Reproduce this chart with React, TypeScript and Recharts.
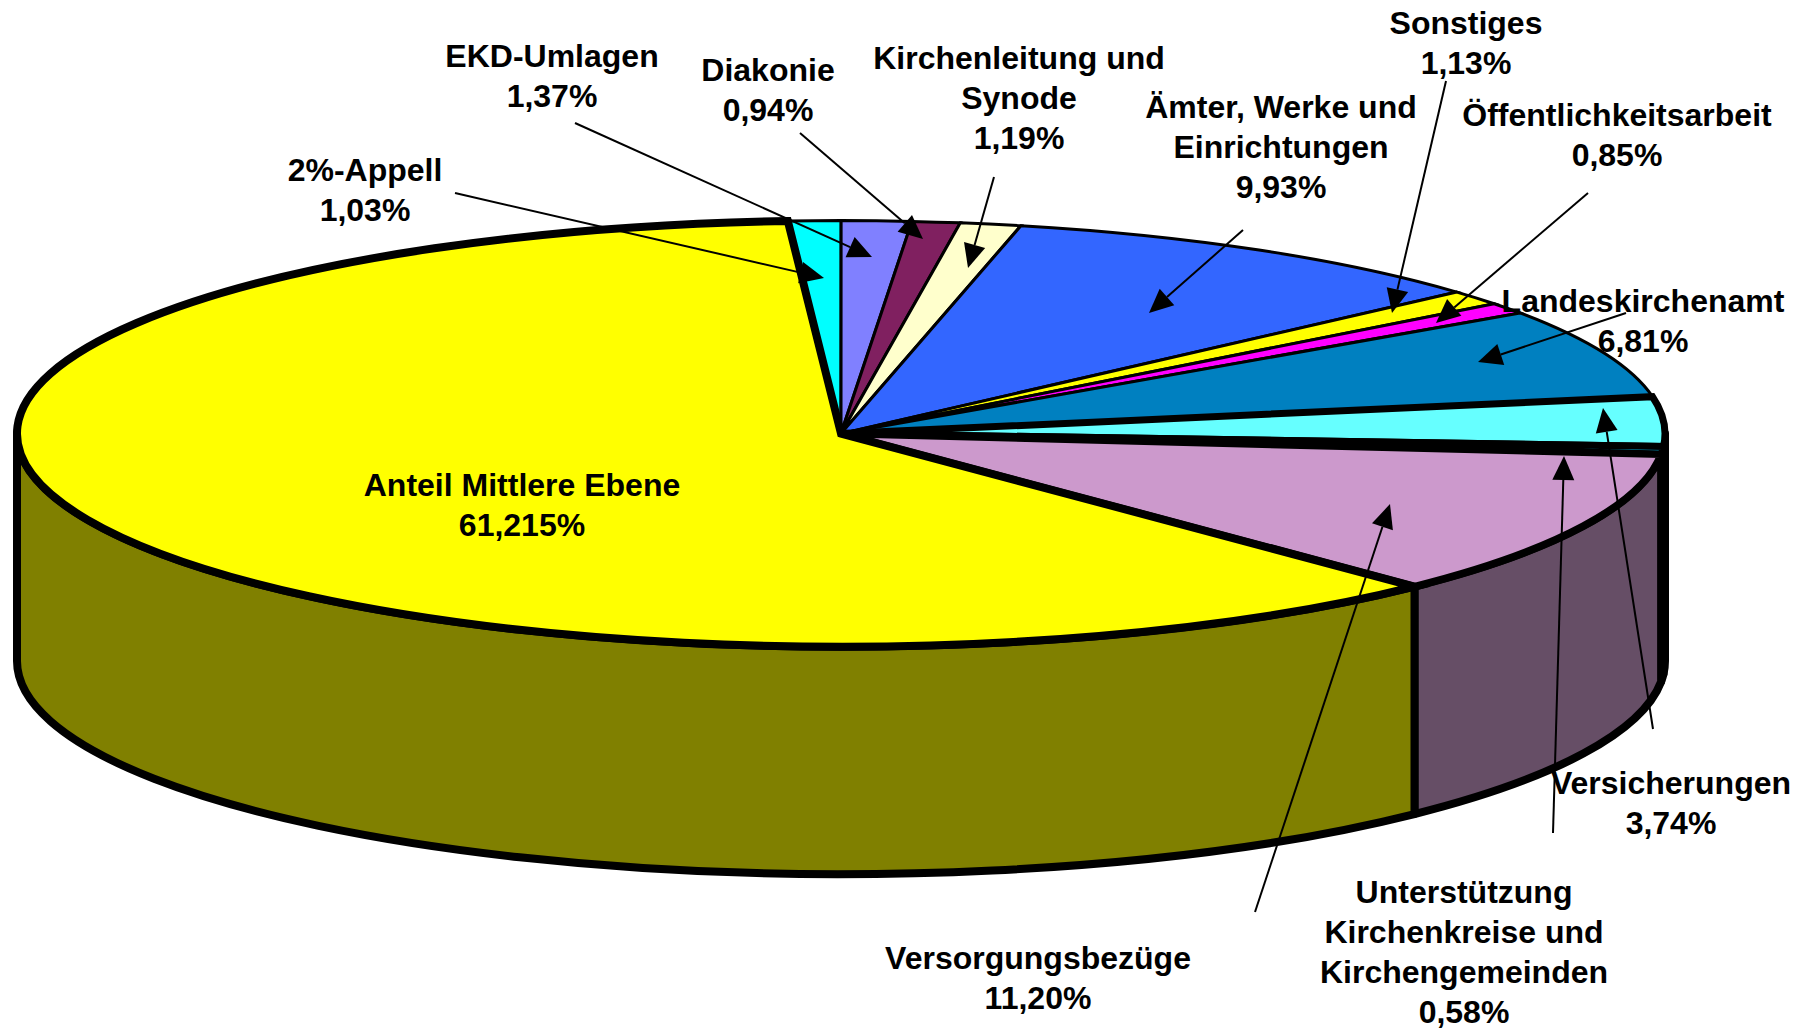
import React from "react";
import { PieChart, Pie } from "recharts";

const names = [
  "2%-Appell", "EKD-Umlagen", "Diakonie", "Kirchenleitung und Synode", "Ämter, Werke und Einrichtungen",
  "Sonstiges", "Öffentlichkeitsarbeit", "Landeskirchenamt", "Versicherungen",
  "Unterstützung Kirchenkreise und Kirchengemeinden", "Versorgungsbezüge", "Anteil Mittlere Ebene",
];
const values = [1.03, 1.37, 0.94, 1.19, 9.93, 1.13, 0.85, 6.81, 3.74, 0.58, 11.2, 61.215];
const percentLabels = ["1,03%", "1,37%", "0,94%", "1,19%", "9,93%", "1,13%", "0,85%", "6,81%", "3,74%", "0,58%", "11,20%", "61,215%"];
const topColors = ["#00FFFF", "#8080FF", "#802060", "#FFFFCC", "#3366FF", "#FFFF00", "#FF00FF", "#0080C0", "#66FFFF", "#00CCFF", "#CC99CC", "#FFFF00"];
const wallColors = ["#008080", "#404080", "#401030", "#808066", "#1A3380", "#808000", "#800080", "#004060", "#338080", "#006680", "#664E66", "#808000"];
const borderWidths = [3, 3, 3, 3, 3, 3, 3, 3, 7, 7, 7.5, 8];

const labelLines = [
  ["2%-Appell"], ["EKD-Umlagen"], ["Diakonie"], ["Kirchenleitung und", "Synode"], ["Ämter, Werke und", "Einrichtungen"],
  ["Sonstiges"], ["Öffentlichkeitsarbeit"], ["Landeskirchenamt"], ["Versicherungen"],
  ["Unterstützung", "Kirchenkreise und", "Kirchengemeinden"], ["Versorgungsbezüge"], ["Anteil Mittlere Ebene"],
];
const labelCenters = [
  [365, 170], [552, 56], [768, 70], [1019, 58], [1281, 107], [1466, 23],
  [1617, 115], [1643, 301], [1671, 783], [1464, 892], [1038, 958], [522, 485],
];
const leaderStarts = [
  [455, 193], [575, 123], [800, 133], [994, 177], [1243, 230], [1446, 81],
  [1588, 193], [1626, 313], [1653, 729], [1553, 833], [1255, 912], null,
];
const leaderTips = [
  [824, 278], [872, 257], [923, 239], [968, 268], [1149, 313], [1392, 313],
  [1436, 323], [1478, 362], [1603, 408], [1564, 456], [1390, 504], null,
];

const table = names.map((name, i) => ({ name, value: values[i], fill: topColors[i], wall: wallColors[i], border: borderWidths[i] }));

const CX = 841;
const CY = 433.6;
const RX = 824;
const TILT = 213 / 824;
const DEPTH = 227.5;
const START = 93.7;
const LINE_GAP = 40;

const pt = (cx: number, cy: number, rx: number, ry: number, deg: number) => {
  const t = (deg * Math.PI) / 180;
  return [cx + rx * Math.cos(t), cy - ry * Math.sin(t)];
};

function TopSlice(p: any) {
  const rx = p.outerRadius;
  const ry = rx * TILT;
  const a = pt(p.cx, p.cy, rx, ry, p.startAngle);
  const b = pt(p.cx, p.cy, rx, ry, p.endAngle);
  const large = Math.abs(p.startAngle - p.endAngle) > 180 ? 1 : 0;
  const d = `M${p.cx},${p.cy}L${a[0]},${a[1]}A${rx},${ry} 0 ${large} 1 ${b[0]},${b[1]}Z`;
  return <path d={d} fill={p.fill} stroke="#000" strokeWidth={p.border ?? p.payload?.border ?? 3} strokeLinejoin="miter" />;
}

function WallSlice(p: any) {
  const rx = p.outerRadius;
  const ry = rx * TILT;
  const hi = Math.min(Math.max(p.startAngle, p.endAngle), 0);
  const lo = Math.max(Math.min(p.startAngle, p.endAngle), -180);
  if (hi <= lo) return <g />;
  const a = pt(p.cx, p.cy, rx, ry, hi);
  const b = pt(p.cx, p.cy, rx, ry, lo);
  const d = `M${a[0]},${a[1]}A${rx},${ry} 0 0 1 ${b[0]},${b[1]}L${b[0]},${b[1] + DEPTH}A${rx},${ry} 0 0 0 ${a[0]},${a[1] + DEPTH}Z`;
  return <path d={d} fill={p.wall ?? p.payload?.wall} stroke="#000" strokeWidth={8} strokeLinejoin="round" />;
}

function SliceLabel(p: any) {
  const i = p.index;
  const [x, y] = labelCenters[i];
  const lines = [...labelLines[i], percentLabels[i]];
  const s = leaderStarts[i];
  const t = leaderTips[i];
  let arrow = null;
  if (s && t) {
    const dx = t[0] - s[0];
    const dy = t[1] - s[1];
    const len = Math.hypot(dx, dy);
    const ux = dx / len;
    const uy = dy / len;
    const bx = t[0] - ux * 24;
    const by = t[1] - uy * 24;
    arrow = (
      <g>
        <line x1={s[0]} y1={s[1]} x2={bx} y2={by} stroke="#000" strokeWidth={2} />
        <polygon points={`${t[0]},${t[1]} ${bx - uy * 11},${by + ux * 11} ${bx + uy * 11},${by - ux * 11}`} fill="#000" />
      </g>
    );
  }
  return (
    <g>
      {arrow}
      <text textAnchor="middle" fontFamily="'Liberation Sans', Arial, sans-serif" fontWeight="bold" fontSize={32} fill="#000">
        {lines.map((l, k) => (
          <tspan key={k} x={x} y={y + 11 + k * LINE_GAP}>{l}</tspan>
        ))}
      </text>
    </g>
  );
}

export default function App() {
  return (
    <div style={{ position: "absolute", left: 0, top: 0, width: 1815, height: 1030, overflow: "hidden", background: "#fff" }}>
      <PieChart width={1815} height={1030} margin={{ top: 0, right: 0, bottom: 0, left: 0 }}>
        <Pie
          data={table} dataKey="value" nameKey="name" cx={CX} cy={CY} outerRadius={RX} innerRadius={0}
          startAngle={START} endAngle={START - 360} isAnimationActive={false} labelLine={false}
          shape={WallSlice} inactiveShape={WallSlice} stroke="#000"
        />
        <Pie
          data={table} dataKey="value" nameKey="name" cx={CX} cy={CY} outerRadius={RX} innerRadius={0}
          startAngle={START} endAngle={START - 360} isAnimationActive={false} labelLine={false}
          shape={TopSlice} inactiveShape={TopSlice} stroke="#000" label={SliceLabel}
        />
      </PieChart>
    </div>
  );
}
